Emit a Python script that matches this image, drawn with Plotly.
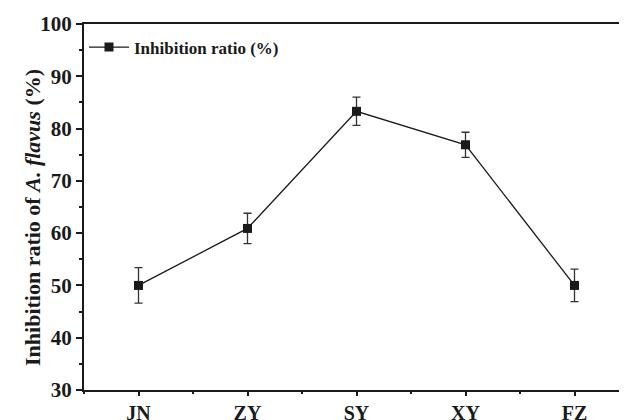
import plotly.graph_objects as go

categories = ["JN", "ZY", "SY", "XY", "FZ"]
inhibition = [50.0, 60.9, 83.3, 76.9, 50.0]
err = [3.4, 2.9, 2.7, 2.4, 3.1]
yticks = [30, 40, 50, 60, 70, 80, 90, 100]

xpos = list(range(len(categories)))
ink = "#1a1a1a"
font = "Liberation Serif"

fig = go.Figure()
fig.add_trace(go.Scatter(
    x=xpos, y=inhibition,
    mode="lines+markers",
    name="<b>Inhibition ratio (%)</b>",
    line=dict(color=ink, width=1.3),
    marker=dict(symbol="square", size=9, color=ink),
    error_y=dict(type="data", array=err, visible=True, color="#333333",
                 thickness=1.3, width=4),
))

fig.update_layout(
    width=627, height=420,
    margin=dict(l=76, r=4, t=16, b=26),
    paper_bgcolor="white", plot_bgcolor="white",
    font=dict(family=font, color=ink),
    showlegend=True,
    legend=dict(x=0.0, y=0.985, xanchor="left", yanchor="top",
                font=dict(family=font, size=17, color=ink),
                bgcolor="rgba(0,0,0,0)", itemwidth=40, tracegroupgap=0),
    annotations=[dict(
        text="<b>Inhibition ratio of <i>A. flavus</i> (%)</b>",
        textangle=-90, xref="paper", yref="paper", x=0, y=0.5,
        xanchor="center", yanchor="middle", xshift=-52, yshift=-11,
        showarrow=False, font=dict(family=font, size=22, color=ink),
    )],
)
fig.update_xaxes(
    range=[-0.5, 4.5], tickmode="array", tickvals=xpos,
    ticktext=["<b>%s</b>" % c for c in categories],
    tickfont=dict(family=font, size=20, color=ink),
    showline=True, linecolor=ink, linewidth=2, mirror=True,
    ticks="outside", ticklen=4, tickwidth=2, tickcolor=ink,
    minor=dict(ticks="outside", ticklen=2, tickwidth=2, tickcolor=ink, tick0=0.5, dtick=1),
    showgrid=False, zeroline=False,
)
fig.update_yaxes(
    range=[30, 100], tickmode="array", tickvals=yticks,
    ticktext=["<b>%d</b>" % v for v in yticks],
    tickfont=dict(family=font, size=21, color=ink),
    showline=True, linecolor=ink, linewidth=2, mirror=True,
    ticks="outside", ticklen=6, tickwidth=2, tickcolor=ink,
    minor=dict(ticks="outside", ticklen=3, tickwidth=2, tickcolor=ink, tick0=35, dtick=10),
    showgrid=False, zeroline=False,
)
fig.write_html("out.html")
